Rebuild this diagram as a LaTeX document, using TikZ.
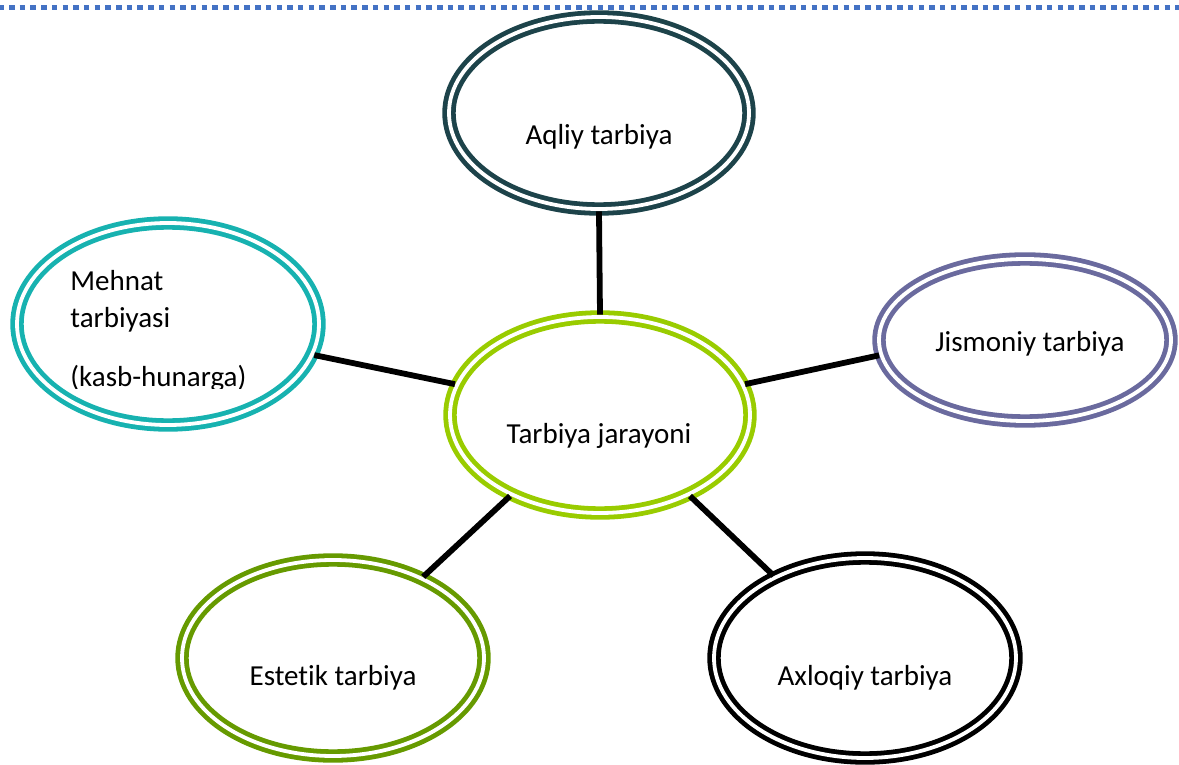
\documentclass[tikz,border=0pt]{standalone}
\usepackage{fontspec}
\setmainfont{Carlito}[Ligatures=NoCommon]
\usetikzlibrary{shapes.geometric}
\definecolor{aqliycol}{HTML}{1D434A}
\definecolor{mehnatcol}{HTML}{17B2B0}
\definecolor{jarayoncol}{HTML}{99CC00}
\definecolor{jismoniycol}{HTML}{6A6A9E}
\definecolor{estetikcol}{HTML}{669A00}
\definecolor{dotcol}{HTML}{4472C4}

\begin{document}
\begin{tikzpicture}[x=0.5pt,y=-0.5pt,
		ring/.style={ellipse,draw=#1,double=white,line width=2.4pt,double distance=1.9pt,inner sep=0pt},
		lbl/.style={font=\fontsize{14.5}{17.4}\selectfont,inner sep=0pt,anchor=base},
		link/.style={line width=2.9pt,black},
		dotline/.style={line width=2.75pt,dotcol,dash pattern=on 2.75pt off 2.6pt,dash phase=0.85pt}]
	%%%%% START %%%%%
	\useasboundingbox (0,0) rectangle (1179,765);

	% top border
	\draw[dotline] (0,7.5) -- (1179,7.5);

	% rings
	\node[ring=aqliycol,minimum width=150pt,minimum height=96pt] (aqliy) at (599,113) {};
	\node[ring=mehnatcol,minimum width=151pt,minimum height=101pt] (mehnat) at (168,324) {};
	\node[ring=jarayoncol,minimum width=150pt,minimum height=98pt] (jarayon) at (600,415) {};
	\node[ring=jismoniycol,minimum width=146pt,minimum height=81pt] (jismoniy) at (1025,340) {};
	\node[ring=estetikcol,minimum width=151pt,minimum height=98pt] (estetik) at (333,658) {};
	\node[ring=black,minimum width=151pt,minimum height=100pt] (axloqiy) at (865,658) {};

	% texts
	\node[lbl] (aqliytxt) at (599,145) {Aqliy tarbiya};
	\node[lbl] (jarayontxt) at (599,443) {Tarbiya jarayoni};
	\node[lbl] (jismoniytxt) at (1030,351) {Jismoniy tarbiya};
	\node[lbl] (estetiktxt) at (333,685) {Estetik tarbiya};
	\node[lbl] (axloqiytxt) at (865,685) {Axloqiy tarbiya};
	\node[lbl,anchor=base west] (mehnattxta) at (70,290) {Mehnat};
	\node[lbl,anchor=base west] (mehnattxtb) at (70,327) {tarbiyasi};
	\begin{scope}
		\clip (60,340) rectangle (300,388);
		\node[lbl,anchor=base west] (mehnattxtc) at (70,386) {(kasb-hunarga)};
	\end{scope}

	% links
	\draw[link] (aqliy.south) -- (jarayon.north);
	\draw[link] (mehnat.-12) -- (jarayon.168);
	\draw[link] (jismoniy.-174) -- (jarayon.12);
	\draw[link] (estetik.42) -- (jarayon.222);
	\draw[link] (axloqiy.138) -- (jarayon.-42);
	%%%%% END %%%%%
\end{tikzpicture}
\end{document}
